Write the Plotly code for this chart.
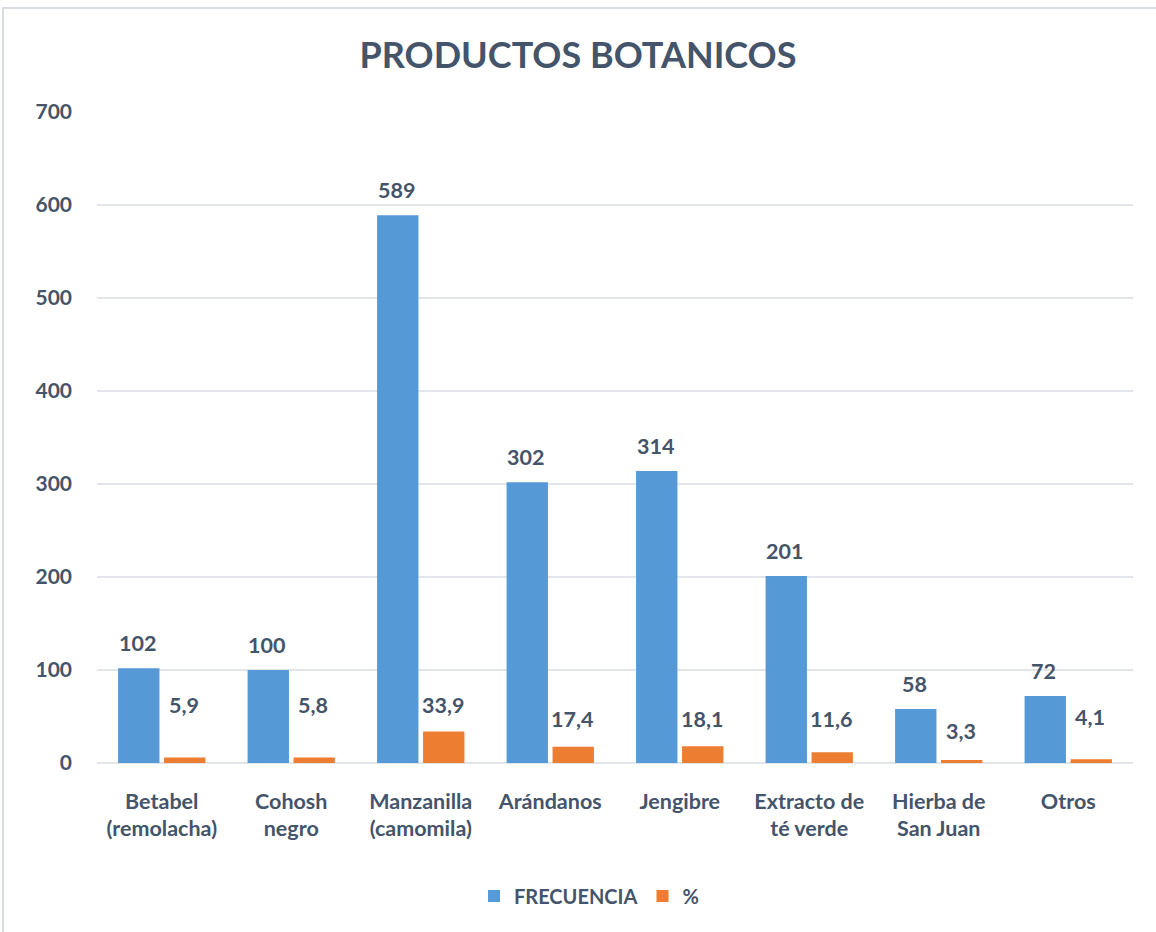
import plotly.graph_objects as go

categories = ["Betabel<br>(remolacha)", "Cohosh<br>negro", "Manzanilla<br>(camomila)", "Arándanos",
              "Jengibre", "Extracto de<br>té verde", "Hierba de<br>San Juan", "Otros"]
frecuencia = [102, 100, 589, 302, 314, 201, 58, 72]
porcentaje = [5.9, 5.8, 33.9, 17.4, 18.1, 11.6, 3.3, 4.1]
pct_labels = ["5,9", "5,8", "33,9", "17,4", "18,1", "11,6", "3,3", "4,1"]
pct_label_shift = [53, 53, 26, 28, 27, 33, 29, 42]
y_ticks = [0, 100, 200, 300, 400, 500, 600, 700]

FONT = "Lato"
TXT = "#44546A"

fig = go.Figure()
fig.add_trace(go.Bar(name="<b>FRECUENCIA</b>", x=list(range(len(categories))), y=frecuencia,
                     marker=dict(color="#5599D6", line=dict(width=0))))
fig.add_trace(go.Bar(name="<b>%</b>", x=list(range(len(categories))), y=porcentaje,
                     marker=dict(color="#ED7D31", line=dict(width=0))))

ann = []
n = len(categories)
for i, v in enumerate(frecuencia):
    ann.append(dict(x=i - 0.19, y=v, xref="x", yref="y", text=f"<b>{v}</b>", showarrow=False,
                    yshift=25, font=dict(family=FONT, size=21.5, color=TXT)))
for i, (v, t, s) in enumerate(zip(porcentaje, pct_labels, pct_label_shift)):
    ann.append(dict(x=i + 0.17, y=v, xref="x", yref="y", text=f"<b>{t}</b>", showarrow=False,
                    yshift=s, font=dict(family=FONT, size=21.5, color=TXT)))

fig.update_layout(
    width=1156, height=932,
    margin=dict(l=97, r=23, t=112, b=169),
    paper_bgcolor="white", plot_bgcolor="white",
    barmode="group", bargap=0.29, bargroupgap=0.1,
    title=dict(text="<b>PRODUCTOS BOTANICOS</b>", x=0.5, xanchor="center", y=1 - 55 / 932, yanchor="middle",
               font=dict(family=FONT, size=36, color=TXT)),
    font=dict(family=FONT, color=TXT),
    xaxis=dict(tickmode="array", tickvals=list(range(n)), ticktext=[f"<b>{c}</b>" for c in categories],
               tickfont=dict(family=FONT, size=21.5, color=TXT), showline=False, showgrid=False,
               ticks="", ticklabelstandoff=23, range=[-0.5, n - 0.5]),
    yaxis=dict(range=[0, 700], tickvals=y_ticks,
               ticktext=[f"<b>{v}</b>" for v in y_ticks],
               tickfont=dict(family=FONT, size=21, color=TXT), gridcolor="#E2E6EA", gridwidth=1.5,
               zeroline=True, zerolinecolor="#E2E6EA", zerolinewidth=1.5, ticks="", ticklabelstandoff=24),
    legend=dict(orientation="h", x=0.5 - 26 / 1036, xanchor="center", y=-(896 - 763) / 651, yanchor="middle",
                font=dict(family=FONT, size=20, color=TXT), itemwidth=30,
                traceorder="normal"),
    annotations=ann,
    shapes=[dict(type="rect", xref="paper", yref="paper",
                 x0=(3 - 97) / 1036, x1=(1170 - 97) / 1036,
                 y0=(763 - 940) / 651, y1=(763 - 8) / 651,
                 line=dict(color="#D9DEE3", width=2), fillcolor="rgba(0,0,0,0)", layer="below")],
)

fig.write_html("out.html", config={"displayModeBar": False},
               post_script="document.body.style.margin='0';document.body.style.overflow='hidden';")
